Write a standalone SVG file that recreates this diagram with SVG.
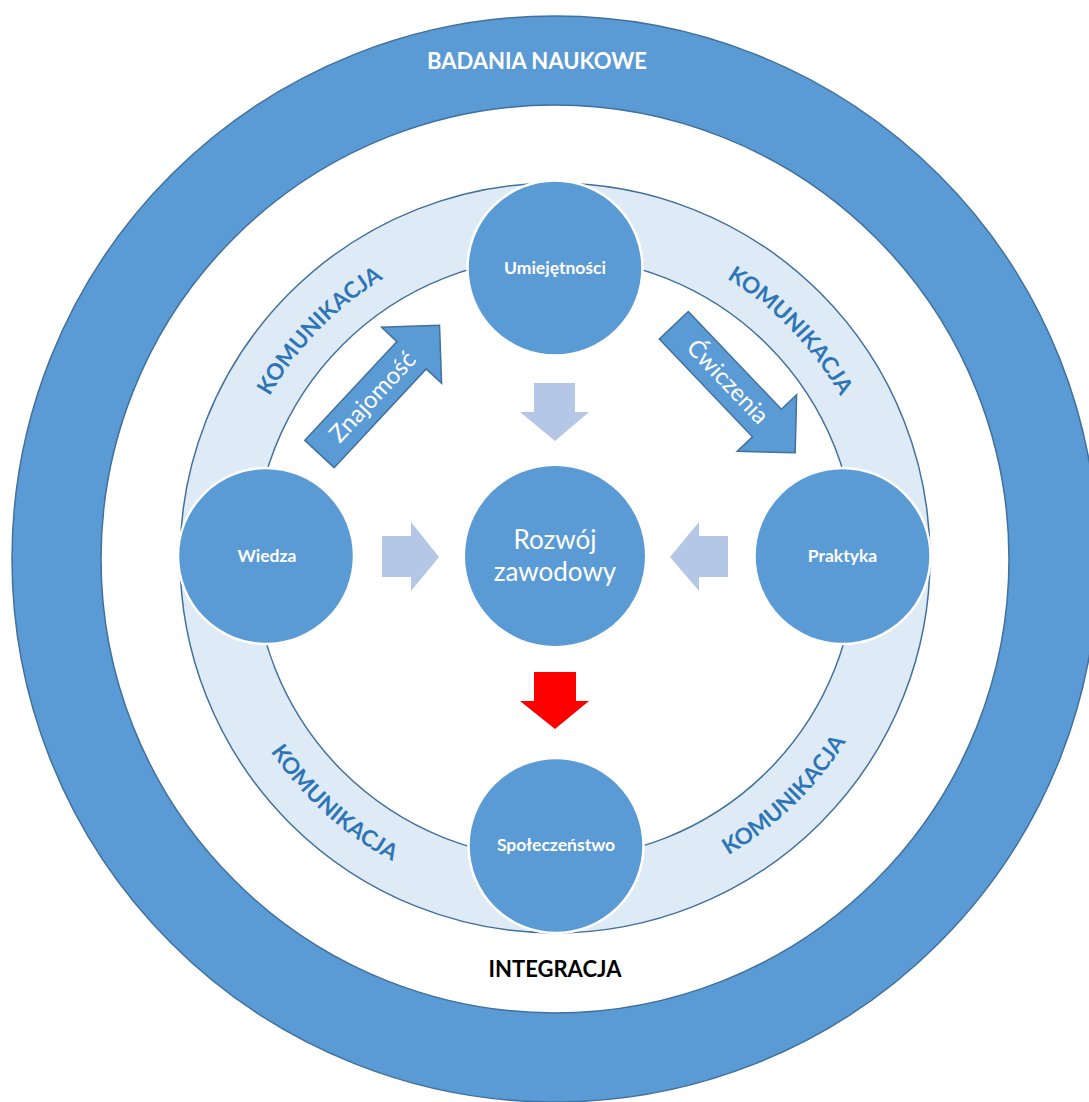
<svg xmlns="http://www.w3.org/2000/svg" width="1089" height="1102" viewBox="0 0 1089 1102">
  <style>
    .ring { fill: #5B9BD5; stroke: #41719C; stroke-width: 1.5; }
    .hole { fill: #FFFFFF; stroke: #41719C; stroke-width: 1.5; }
    .band { fill: #DEEBF7; stroke: #41719C; stroke-width: 1.5; }
    .node { fill: #5B9BD5; stroke: #FFFFFF; stroke-width: 2.5; }
    .nlabel { font-family: Lato, "Liberation Sans", sans-serif; font-weight: bold; font-size: 17.5px; fill: #FFFFFF; text-anchor: middle; }
    .big { font-family: Lato, "Liberation Sans", sans-serif; font-size: 26px; fill: #FFFFFF; text-anchor: middle; }
    .title { font-family: Lato, "Liberation Sans", sans-serif; font-weight: bold; font-size: 22px; text-anchor: middle; }
    .komu { font-family: Lato, "Liberation Sans", sans-serif; font-weight: bold; font-size: 22.5px; fill: #2E75B6; text-anchor: middle; }
    .bigarrow { fill: #5B9BD5; stroke: #41719C; stroke-width: 1.5; stroke-linejoin: miter; }
    .alabel { font-family: Lato, "Liberation Sans", sans-serif; font-size: 24px; fill: #FFFFFF; text-anchor: middle; }
    .soft { fill: #B4C7E7; }
    .red { fill: #FF0000; }
  </style>
  <defs>
    <path id="arcTL" d="M 227.8 535.1 A 328 328 0 0 1 520.7 231.8"/>
    <path id="arcTR" d="M 589.3 231.8 A 328 328 0 0 1 882.2 535.1"/>
    <path id="arcBL" d="M 214.3 605.9 A 344 344 0 0 0 543.0 901.8"/>
    <path id="arcBR" d="M 579.0 901.2 A 344 344 0 0 0 897.1 594.0"/>
    <path id="bigArrowShape" d="M0,-20 L135,-20 L135,-41 L176,0 L135,41 L135,20 L0,20 Z"/>
  </defs>
  <rect x="0" y="0" width="1089" height="1102" fill="#FFFFFF"/>

  <g id="badania-naukowe">
    <circle class="ring" cx="555" cy="559" r="543"/>
    <circle class="hole" cx="555" cy="559" r="454"/>
    <text class="title" x="537" y="69" fill="#FFFFFF">BADANIA NAUKOWE</text>
  </g>

  <g id="integracja">
    <text class="title" x="555" y="977" fill="#000000">INTEGRACJA</text>
  </g>

  <g id="komunikacja">
    <circle class="band" cx="555" cy="558" r="375"/>
    <circle class="hole" cx="555" cy="558" r="301"/>
    <text class="komu"><textPath href="#arcTL" startOffset="50%">KOMUNIKACJA</textPath></text>
    <text class="komu"><textPath href="#arcTR" startOffset="50%">KOMUNIKACJA</textPath></text>
    <text class="komu"><textPath href="#arcBL" startOffset="50%">KOMUNIKACJA</textPath></text>
    <text class="komu"><textPath href="#arcBR" startOffset="50%">KOMUNIKACJA</textPath></text>
  </g>

  <g id="connectors">
    <g id="arrow-znajomosc" transform="translate(319.5,454) rotate(-47)">
      <use href="#bigArrowShape" class="bigarrow"/>
      <text class="alabel" x="78" y="8">Znajomość</text>
    </g>
    <g id="arrow-cwiczenia" transform="translate(673.8,325.3) rotate(46.4)">
      <use href="#bigArrowShape" class="bigarrow"/>
      <text class="alabel" x="78" y="8">Ćwiczenia</text>
    </g>
    <polygon id="arrow-top" class="soft" points="534,383 575,383 575,412 589,412 555,441 520,412 534,412"/>
    <polygon id="arrow-left" class="soft" points="382,536 411,536 411,522 439,557 411,591 411,577 382,577"/>
    <polygon id="arrow-right" class="soft" points="728,536 699,536 699,522 670,557 699,591 699,577 728,577"/>
    <polygon id="arrow-red" class="red" points="534,672 576,672 576,701 589,701 555,729 520,701 534,701"/>
  </g>

  <g id="node-umiejetnosci">
    <circle class="node" cx="555" cy="268" r="87.5"/>
    <text class="nlabel" x="555" y="274">Umiejętności</text>
  </g>
  <g id="node-wiedza">
    <circle class="node" cx="266" cy="556" r="88"/>
    <text class="nlabel" x="267" y="562">Wiedza</text>
  </g>
  <g id="node-praktyka">
    <circle class="node" cx="842.5" cy="556" r="88"/>
    <text class="nlabel" x="842.5" y="562">Praktyka</text>
  </g>
  <g id="node-spoleczenstwo">
    <circle class="node" cx="556" cy="845.5" r="87.5"/>
    <text class="nlabel" x="556" y="851">Społeczeństwo</text>
  </g>
  <g id="node-rozwoj">
    <circle class="node" cx="555" cy="556" r="90" style="stroke:none"/>
    <text class="big" x="555" y="549">Rozwój</text>
    <text class="big" x="555" y="581">zawodowy</text>
  </g>
</svg>
